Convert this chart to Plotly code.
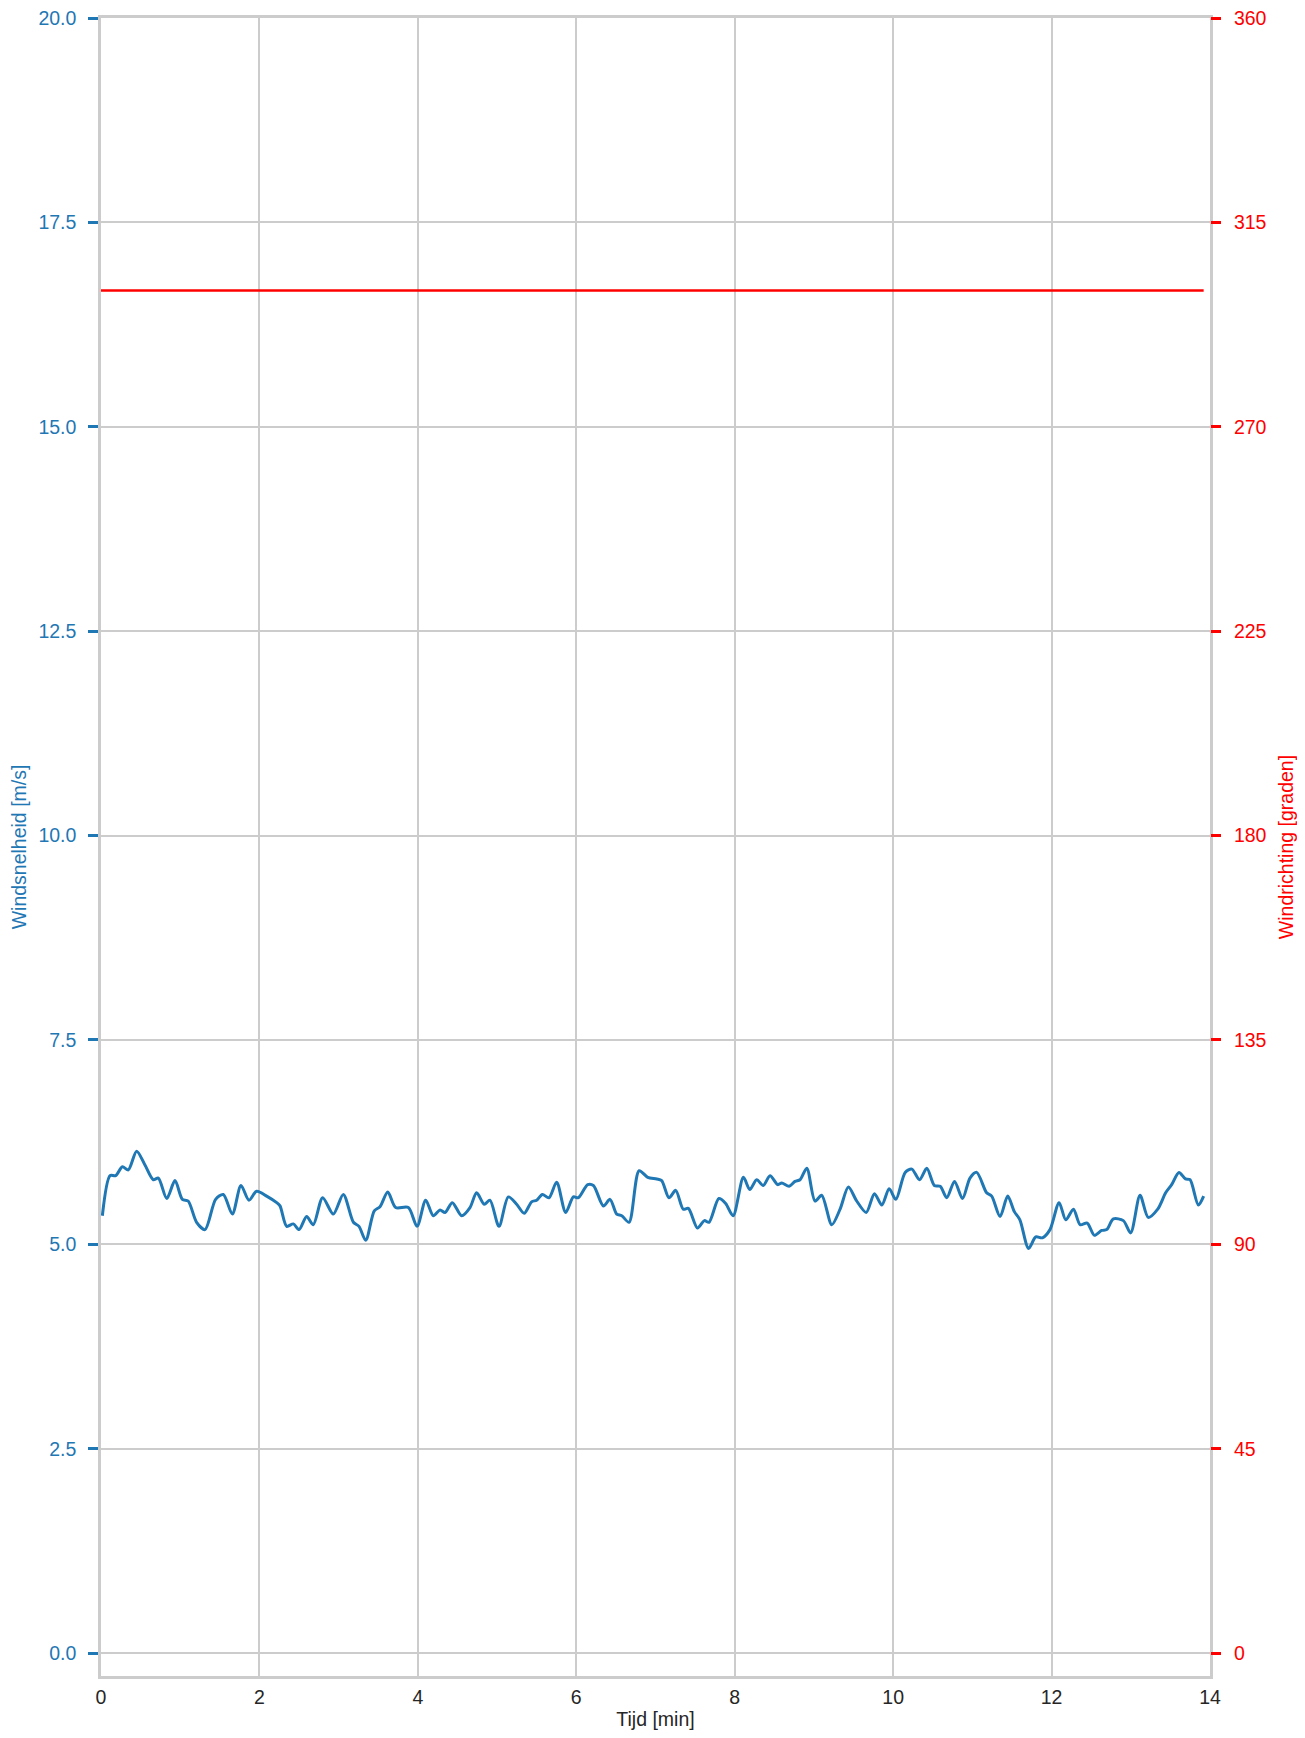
import plotly.graph_objects as go

# Wind speed samples (time in minutes, speed in m/s)
tijd_min = [0.017, 0.114, 0.185, 0.27, 0.345, 0.45, 0.555, 0.66, 0.724, 0.83, 0.934, 1.027, 1.10,
            1.207, 1.313, 1.447, 1.544, 1.658, 1.767, 1.868, 1.965, 2.091, 2.218, 2.26, 2.344, 2.428,
            2.50, 2.596, 2.68, 2.798, 2.933, 3.059, 3.186, 3.257, 3.342, 3.45, 3.522, 3.62, 3.72, 3.88,
            3.99, 4.099, 4.195, 4.28, 4.343, 4.435, 4.553, 4.658, 4.742, 4.838, 4.91, 5.024, 5.142,
            5.247, 5.342, 5.436, 5.50, 5.572, 5.655, 5.752, 5.866, 5.963, 6.026, 6.144, 6.216, 6.342,
            6.426, 6.51, 6.574, 6.666, 6.793, 6.902, 7.016, 7.078, 7.17, 7.255, 7.35, 7.415, 7.53,
            7.617, 7.676, 7.80, 7.886, 7.98, 8.11, 8.19, 8.277, 8.36, 8.446, 8.543, 8.594, 8.686,
            8.762, 8.825, 8.91, 9.014, 9.098, 9.225, 9.33, 9.435, 9.54, 9.66, 9.764, 9.857, 9.95,
            10.034, 10.152, 10.236, 10.333, 10.425, 10.52, 10.594, 10.677, 10.775, 10.876, 10.97,
            11.055, 11.18, 11.244, 11.35, 11.446, 11.53, 11.60, 11.71, 11.80, 11.884, 11.98, 12.095,
            12.18, 12.276, 12.36, 12.45, 12.54, 12.633, 12.696, 12.78, 12.906, 12.998, 13.117, 13.22,
            13.34, 13.44, 13.516, 13.608, 13.69, 13.748, 13.853, 13.92]
windsnelheid = [5.35, 5.84, 5.84, 5.95, 5.91, 6.14, 5.97, 5.79, 5.81, 5.56, 5.78, 5.55, 5.53,
                5.27, 5.18, 5.55, 5.61, 5.37, 5.72, 5.54, 5.65, 5.59, 5.51, 5.47, 5.22, 5.25,
                5.18, 5.34, 5.24, 5.57, 5.37, 5.61, 5.27, 5.22, 5.05, 5.41, 5.46, 5.64, 5.45, 5.45,
                5.22, 5.54, 5.35, 5.42, 5.39, 5.51, 5.35, 5.45, 5.63, 5.49, 5.54, 5.22, 5.58,
                5.49, 5.38, 5.52, 5.54, 5.61, 5.57, 5.76, 5.39, 5.58, 5.57, 5.73, 5.72, 5.47,
                5.55, 5.37, 5.35, 5.27, 5.90, 5.82, 5.80, 5.78, 5.57, 5.66, 5.43, 5.44, 5.20,
                5.29, 5.27, 5.56, 5.50, 5.35, 5.82, 5.67, 5.79, 5.72, 5.84, 5.73, 5.75, 5.71,
                5.77, 5.79, 5.93, 5.53, 5.60, 5.24, 5.43, 5.70, 5.53, 5.39, 5.62, 5.48, 5.68,
                5.55, 5.88, 5.92, 5.79, 5.93, 5.72, 5.71, 5.57, 5.77, 5.56, 5.81,
                5.88, 5.63, 5.59, 5.34, 5.59, 5.40, 5.30, 4.95, 5.09, 5.08, 5.18, 5.51,
                5.30, 5.43, 5.24, 5.26, 5.11, 5.17, 5.18, 5.31, 5.29, 5.14, 5.60, 5.33,
                5.43, 5.63, 5.73, 5.88, 5.80, 5.79, 5.48, 5.59]

# Wind direction (degrees)
richting_tijd = [0.0, 13.92]
windrichting = [300, 300]

x_ticks = [0, 2, 4, 6, 8, 10, 12, 14]
y_ticks = [0.0, 2.5, 5.0, 7.5, 10.0, 12.5, 15.0, 17.5, 20.0]
y2_ticks = [0, 45, 90, 135, 180, 225, 270, 315, 360]

BLUE = "#1f77b4"
RED = "#ff0000"
GRID = "#cccccc"
FONT = "Arial, Liberation Sans, sans-serif"
FS = 19.5

fig = go.Figure()
fig.add_trace(go.Scatter(x=tijd_min, y=windsnelheid, mode="lines",
                         line=dict(color=BLUE, width=3, shape="spline", smoothing=0.8),
                         showlegend=False, yaxis="y"))
fig.add_trace(go.Scatter(x=richting_tijd, y=windrichting, mode="lines",
                         line=dict(color=RED, width=2.5),
                         showlegend=False, yaxis="y2"))

fig.update_layout(
    width=1289, height=1722,
    margin=dict(l=93, r=87, t=10, b=54, autoexpand=False),
    paper_bgcolor="white", plot_bgcolor="white",
    font=dict(family=FONT, size=FS, color="#262626"),
    xaxis=dict(range=[0, 14], tickvals=x_ticks, ticktext=[str(v) for v in x_ticks],
               showgrid=True, gridcolor=GRID, gridwidth=2,
               showline=True, linecolor=GRID, linewidth=2.5, mirror=True,
               ticks="", zeroline=False, automargin=False, ticklabelstandoff=2,
               ticklabeloverflow="allow",
               title=dict(text="Tijd [min]", font=dict(size=FS, color="#262626"), standoff=14),
               tickfont=dict(size=FS, color="#262626")),
    yaxis=dict(range=[-0.28, 20.0], tickvals=y_ticks, ticktext=[f"{v:.1f}" for v in y_ticks],
               showgrid=True, gridcolor=GRID, gridwidth=2,
               showline=True, linecolor=GRID, linewidth=2.5, mirror=True,
               ticks="outside", ticklen=10, tickwidth=3, tickcolor=BLUE,
               zeroline=False, automargin=False, ticklabelstandoff=8,
               ticklabeloverflow="allow",
               tickfont=dict(size=FS, color=BLUE),
               title=dict(text="Windsnelheid [m/s]", font=dict(size=FS, color=BLUE), standoff=7)),
    yaxis2=dict(range=[-5.04, 360], tickvals=y2_ticks, ticktext=[str(v) for v in y2_ticks],
                overlaying="y", side="right", showgrid=False, zeroline=False,
                showline=False, automargin=False, ticklabelstandoff=9,
                ticklabeloverflow="allow",
                ticks="outside", ticklen=10, tickwidth=3, tickcolor=RED,
                tickfont=dict(size=FS, color=RED),
                title=dict(text="Windrichting [graden]", font=dict(size=FS, color=RED), standoff=14)),
)

fig.write_html("out.html")
